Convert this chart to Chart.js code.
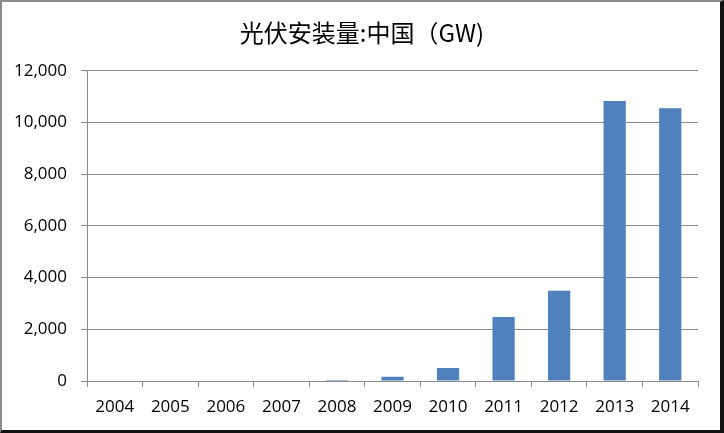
<!DOCTYPE html>
<html>
<head>
<meta charset="utf-8">
<script src="https://cdn.jsdelivr.net/npm/chart.js@4"></script>
<style>
  html, body { margin: 0; padding: 0; background: #fff; }
  #wrap { position: relative; width: 724px; height: 433px; }
  #frame {
    position: absolute; left: 0; top: 0; width: 724px; height: 433px;
    box-sizing: border-box; pointer-events: none;
    border-left: 2px solid #8c8c8c; border-top: 2px solid #8c8c8c;
    border-right: 4px solid #111; border-bottom: 3px solid #111;
  }
</style>
</head>
<body>
<div id="wrap">
  <canvas id="chart" width="724" height="433"></canvas>
  <div id="frame"></div>
</div>
<script>
// data
const years = ["2004", "2005", "2006", "2007", "2008", "2009", "2010", "2011", "2012", "2013", "2014"];
const installed = [0, 0, 0, 0, 40, 160, 500, 2480, 3490, 10830, 10550];
const yTicks = [0, 2000, 4000, 6000, 8000, 10000, 12000];

const numFont = { family: "'Open Sans', 'Noto Sans', sans-serif", size: 17 };

const ctx = document.getElementById("chart").getContext("2d");
new Chart(ctx, {
  type: "bar",
  data: {
    labels: years,
    datasets: [{
      label: "光伏安装量:中国",
      data: installed,
      backgroundColor: "#4f81bd",
      barPercentage: 0.4,
      categoryPercentage: 1
    }]
  },
  options: {
    responsive: false,
    animation: false,
    layout: { padding: 0 },
    plugins: {
      legend: { display: false },
      tooltip: { enabled: false },
      title: {
        display: true,
        text: "光伏安装量:中国（GW)",
        color: "#000",
        font: { family: "'Noto Sans CJK SC', sans-serif", size: 24, weight: "normal" },
        padding: { top: 18, bottom: 24 }
      }
    },
    scales: {
      x: {
        grid: { offset: true, drawOnChartArea: false, color: "#8c8c8c", tickLength: 6 },
        border: { color: "#8c8c8c" },
        ticks: { color: "#000", font: numFont, padding: 10, maxRotation: 0 },
        afterFit: s => { s.height = 52; }
      },
      y: {
        min: 0,
        max: 12000,
        afterBuildTicks: s => { s.ticks = yTicks.map(v => ({ value: v })); },
        grid: { color: "#8c8c8c", tickLength: 6 },
        border: { color: "#8c8c8c" },
        ticks: {
          color: "#000",
          font: numFont,
          padding: 14,
          callback: v => v.toLocaleString("en-US")
        },
        afterFit: s => { s.width = 87; }
      },
      // empty right-hand strip so the title stays centred on the whole picture
      pad: {
        type: "linear",
        position: "right",
        grid: { display: false },
        border: { display: false },
        ticks: { display: false },
        afterFit: s => { s.width = 26; }
      }
    }
  }
});
</script>
</body>
</html>
